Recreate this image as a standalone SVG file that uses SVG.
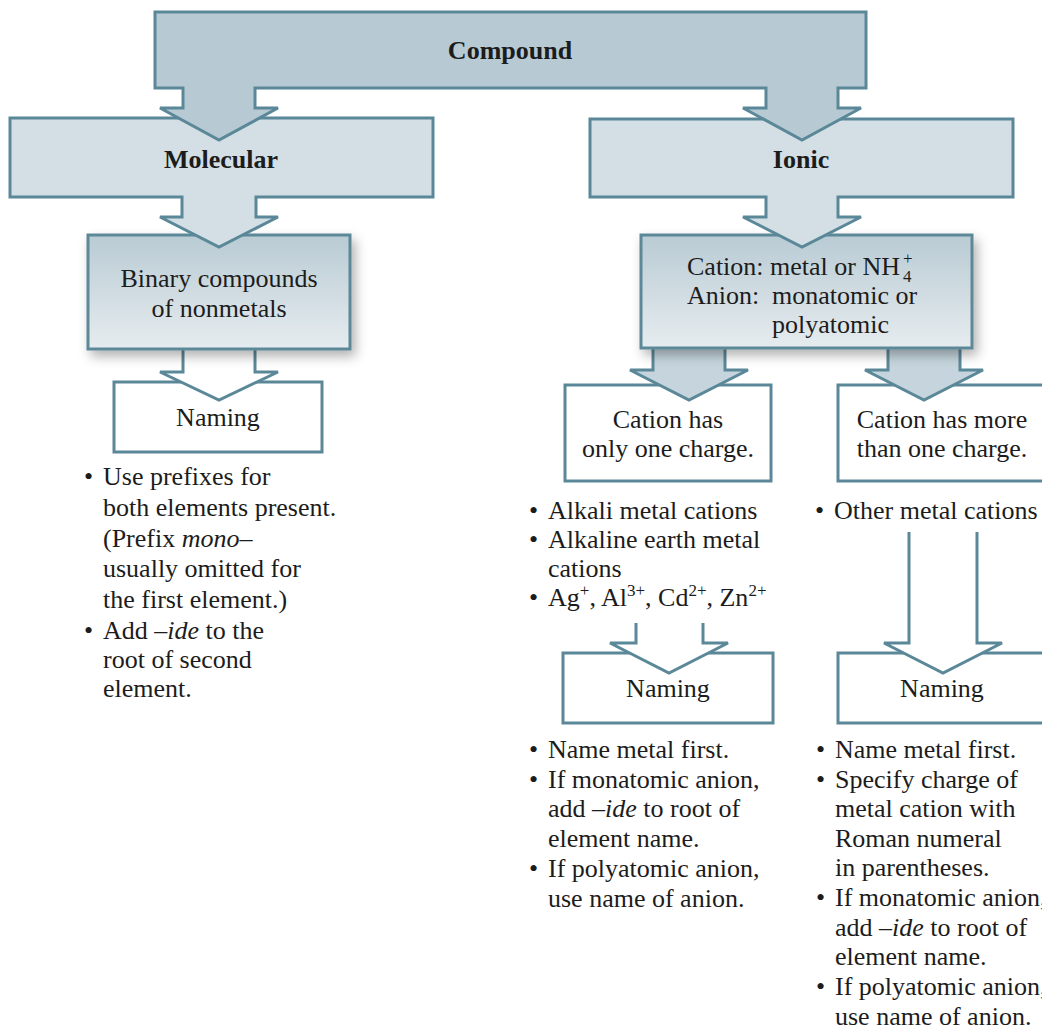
<svg xmlns="http://www.w3.org/2000/svg" width="1042" height="1032" viewBox="0 0 1042 1032">
<defs>
<style>
.t{font-family:"Liberation Serif","Times New Roman",serif;font-size:26px;fill:#1c1c1c}
.b{font-weight:bold}
.c{text-anchor:middle}
.i{font-style:italic}
.sup{font-size:17px}
.box{fill:#ffffff;stroke:#5b8898;stroke-width:3}
.big{fill:#d3dfe5;stroke:#5b8898;stroke-width:3;stroke-linejoin:miter}
.top{fill:#b7cad3;stroke:#5b8898;stroke-width:3}
.grad{fill:url(#g);stroke:#5b8898;stroke-width:3}
.openarrow{fill:#ffffff;stroke:#5b8898;stroke-width:3}
.fillarrow{fill:#c6d5dd;stroke:#5b8898;stroke-width:3}
</style>
<linearGradient id="g" x1="0" y1="0" x2="0" y2="1">
<stop offset="0" stop-color="#b9cbd4"/>
<stop offset="1" stop-color="#e6ecef"/>
</linearGradient>
<filter id="sh" x="-10%" y="-10%" width="130%" height="140%">
<feDropShadow dx="4" dy="6" stdDeviation="6" flood-color="#000" flood-opacity="0.3"/>
</filter>
</defs>

<g id="naming-molecular">
<rect class="box" x="114" y="382" width="208" height="70"/>
<text class="t c" x="218" y="426">Naming</text>
</g>
<g id="naming-one-charge">
<rect class="box" x="563" y="653" width="210" height="70"/>
<text class="t c" x="668" y="697">Naming</text>
</g>
<g id="naming-more-charge">
<rect class="box" x="838" y="653" width="215" height="70"/>
<text class="t c" x="942" y="697">Naming</text>
</g>
<g id="one-charge">
<rect class="box" x="565" y="385" width="206" height="96"/>
<text class="t c" x="668" y="428">Cation has</text>
<text class="t c" x="668" y="457">only one charge.</text>
</g>
<g id="more-charge">
<rect class="box" x="838" y="385" width="215" height="96"/>
<text class="t c" x="942" y="428">Cation has more</text>
<text class="t c" x="942" y="457">than one charge.</text>
</g>

<g id="connectors">
<path class="openarrow" d="M183,349 V372 H160 L219,400 L278,372 H255 V349"/>
<path class="fillarrow" d="M653,348 V370 H630 L689,400 L748,370 H725 V348"/>
<path class="fillarrow" d="M888,348 V370 H865 L924,400 L983,370 H960 V348"/>
<path class="openarrow" d="M636,623 V643 H610 L669,673 L728,643 H703 V623"/>
<path class="openarrow" d="M909,532 V643 H884 L943,673 L1002,643 H977 V532"/>
</g>

<g id="binary">
<rect class="grad" x="88" y="235" width="262" height="114" filter="url(#sh)"/>
<text class="t c" x="219" y="287">Binary compounds</text>
<text class="t c" x="219" y="317">of nonmetals</text>
</g>
<g id="cation-anion">
<rect class="grad" x="641" y="235" width="331" height="113" filter="url(#sh)"/>
<text class="t" x="687" y="275">Cation: metal or NH<tspan class="sup" x="903" dy="7">4</tspan><tspan class="sup" x="903" dy="-18">+</tspan></text>
<text class="t" x="687" y="304">Anion:</text>
<text class="t" x="772" y="304">monatomic or</text>
<text class="t" x="772" y="333">polyatomic</text>
</g>

<g id="molecular">
<polygon class="big" points="10,118 433,118 433,197 256,197 256,217 278,217 219,247 160,217 182,217 182,197 10,197"/>
<text class="t b c" x="221" y="168">Molecular</text>
</g>
<g id="ionic">
<polygon class="big" points="590,119 1013,119 1013,197 838,197 838,217 861,217 802,247 743,217 766,217 766,197 590,197"/>
<text class="t b c" x="801" y="168">Ionic</text>
</g>
<g id="compound">
<polygon class="top" points="155,12 866,12 866,88 838,88 838,108 861,108 802,140 743,108 766,108 766,88 255,88 255,108 278,108 219,140 160,108 183,108 183,88 155,88"/>
<text class="t b c" x="510" y="59">Compound</text>
</g>

<g id="molecular-notes">
<text class="t" x="84" y="485">•</text>
<text class="t" x="103" y="485">Use prefixes for</text>
<text class="t" x="103" y="516">both elements present.</text>
<text class="t" x="103" y="547">(Prefix <tspan class="i">mono</tspan>–</text>
<text class="t" x="103" y="577">usually omitted for</text>
<text class="t" x="103" y="608">the first element.)</text>
<text class="t" x="84" y="639">•</text>
<text class="t" x="103" y="639">Add –<tspan class="i">ide</tspan> to the</text>
<text class="t" x="103" y="668">root of second</text>
<text class="t" x="103" y="697">element.</text>
</g>

<g id="one-charge-notes">
<text class="t" x="529" y="519">•</text>
<text class="t" x="548" y="519">Alkali metal cations</text>
<text class="t" x="529" y="548">•</text>
<text class="t" x="548" y="548">Alkaline earth metal</text>
<text class="t" x="548" y="577">cations</text>
<text class="t" x="529" y="606">•</text>
<text class="t" x="548" y="606">Ag<tspan class="sup" dy="-10">+</tspan><tspan dy="10">, Al</tspan><tspan class="sup" dy="-10">3+</tspan><tspan dy="10">, Cd</tspan><tspan class="sup" dy="-10">2+</tspan><tspan dy="10">, Zn</tspan><tspan class="sup" dy="-10">2+</tspan></text>
</g>
<g id="more-charge-notes">
<text class="t" x="815" y="519">•</text>
<text class="t" x="834" y="519">Other metal cations</text>
</g>

<g id="one-charge-naming-notes">
<text class="t" x="529" y="758">•</text>
<text class="t" x="548" y="758">Name metal first.</text>
<text class="t" x="529" y="788">•</text>
<text class="t" x="548" y="788">If monatomic anion,</text>
<text class="t" x="548" y="817">add –<tspan class="i">ide</tspan> to root of</text>
<text class="t" x="548" y="847">element name.</text>
<text class="t" x="529" y="877">•</text>
<text class="t" x="548" y="877">If polyatomic anion,</text>
<text class="t" x="548" y="907">use name of anion.</text>
</g>
<g id="more-charge-naming-notes">
<text class="t" x="816" y="758">•</text>
<text class="t" x="835" y="758">Name metal first.</text>
<text class="t" x="816" y="788">•</text>
<text class="t" x="835" y="788">Specify charge of</text>
<text class="t" x="835" y="817">metal cation with</text>
<text class="t" x="835" y="847">Roman numeral</text>
<text class="t" x="835" y="876">in parentheses.</text>
<text class="t" x="816" y="906">•</text>
<text class="t" x="835" y="906">If monatomic anion,</text>
<text class="t" x="835" y="936">add –<tspan class="i">ide</tspan> to root of</text>
<text class="t" x="835" y="965">element name.</text>
<text class="t" x="816" y="995">•</text>
<text class="t" x="835" y="995">If polyatomic anion,</text>
<text class="t" x="835" y="1025">use name of anion.</text>
</g>
</svg>
